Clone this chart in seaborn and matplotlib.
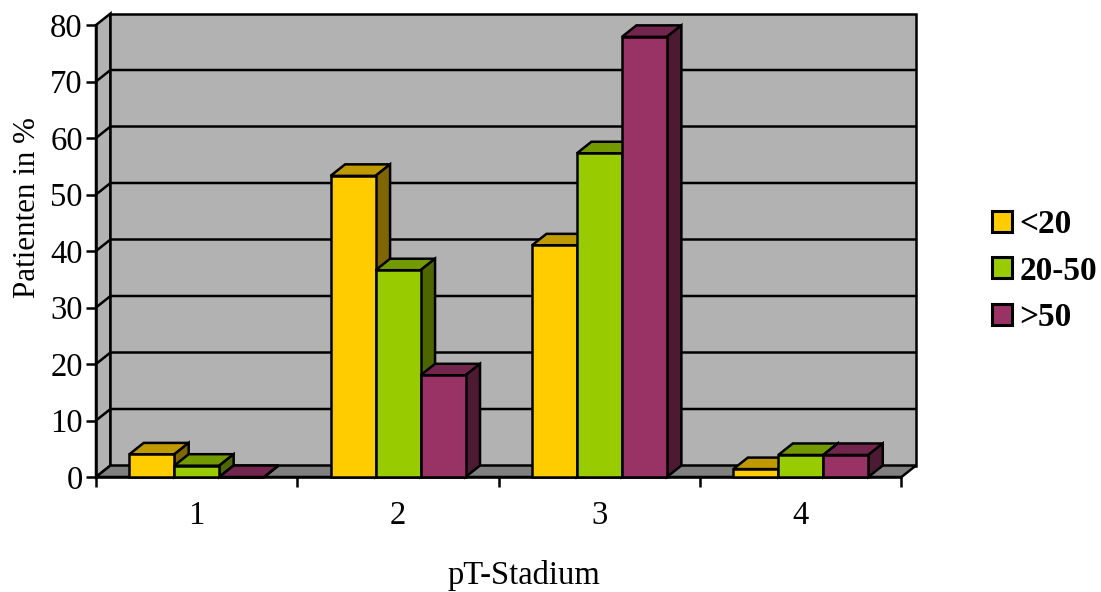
import matplotlib
matplotlib.use('Agg')
import matplotlib.pyplot as plt
from matplotlib.patches import Polygon
import numpy as np
import pandas as pd
import seaborn as sns

stages = ['1', '2', '3', '4']
groups = ['<20', '20-50', '>50']
under_20 = [4.0, 53.3, 41.0, 1.4]
from_20_to_50 = [2.0, 36.6, 57.3, 3.9]
over_50 = [0.0, 18.0, 77.9, 3.9]
colors = ['#FFCC00', '#99CC00', '#993366']
y_ticks = list(range(0, 90, 10))

sns.set_style('white')
plt.rcParams['font.family'] = ['Liberation Serif']
plt.rcParams['font.size'] = 23
plt.rcParams['text.color'] = 'black'
plt.rcParams['axes.labelcolor'] = 'black'
plt.rcParams['xtick.color'] = 'black'
plt.rcParams['ytick.color'] = 'black'

df = pd.DataFrame({
    'stage': stages * 3,
    'group': [g for g in groups for _ in stages],
    'value': under_20 + from_20_to_50 + over_50,
})

W, H = 1101, 592
LW = 1.8
fig = plt.figure(figsize=(W / 100, H / 100), dpi=100)
ax = fig.add_axes([96 / W, (H - 477) / H, 805.5 / W, 452 / H])

sns.barplot(data=df, x='stage', y='value', hue='group', hue_order=groups,
            palette=colors, width=0.67, gap=0, saturation=1,
            edgecolor='black', linewidth=LW, ax=ax)
ax.set_xlim(-0.5, 3.5)
ax.set_ylim(0, 80)
ax.patch.set_visible(False)
# seaborn also keeps empty proxy patches for the legend, skip those
bars = sorted([p for p in ax.patches if p.get_width() > 0], key=lambda p: p.get_x())

# depth of the fake 3d box, in data units
dx = 14.5 / 201.4
dy = 11.5 / 5.65
x0, x1 = -0.5, 3.5


def shade(c, f):
    return tuple(v * f for v in matplotlib.colors.to_rgb(c))


def poly(pts, face, z):
    ax.add_patch(Polygon(pts, closed=True, facecolor=face, edgecolor='black',
                         linewidth=LW, joinstyle='miter', clip_on=False, zorder=z))


# walls and floor
poly([(x0, 0), (x0 + dx, dy), (x0 + dx, 80 + dy), (x0, 80)], '#B2B2B2', 0.5)
poly([(x0 + dx, dy), (x1 + dx, dy), (x1 + dx, 80 + dy), (x0 + dx, 80 + dy)], '#B2B2B2', 0.5)
poly([(x0, 0), (x1, 0), (x1 + dx, dy), (x0 + dx, dy)], '#808080', 0.6)
for v in y_ticks[1:-1]:
    ax.plot([x0, x0 + dx, x1 + dx], [v, v + dy, v + dy], color='black', lw=LW,
            clip_on=False, zorder=0.7)

# bar tops and sides, left to right so that the next bar covers the last one
for i, bar in enumerate(bars):
    left, w, h = bar.get_x(), bar.get_width(), bar.get_height()
    right = left + w
    face = bar.get_facecolor()
    z = 3 + i
    poly([(left, h), (right, h), (right + dx, h + dy), (left + dx, h + dy)], shade(face, 0.75), z)
    poly([(right, 0), (right + dx, dy), (right + dx, h + dy), (right, h)], shade(face, 0.5), z)
    bar.set_zorder(z + 0.5)
    bar.set_clip_on(False)

# ticks sit on the category borders, labels in between
ax.set_xticks(np.arange(x0, x1 + 1))
ax.set_xticklabels([])
ax.set_xticks(range(4), labels=stages, minor=True)
ax.tick_params(axis='x', which='major', length=7, width=LW, color='black', bottom=True)
ax.tick_params(axis='x', which='minor', length=0, pad=17, labelsize=23.5, bottom=True)
ax.set_yticks(y_ticks)
ax.tick_params(axis='y', length=7, width=LW, color='black', pad=2.5, labelsize=23.5, left=True)

for side in ['top', 'right']:
    ax.spines[side].set_visible(False)
for side in ['left', 'bottom']:
    ax.spines[side].set_linewidth(LW)
    ax.spines[side].set_color('black')
    ax.spines[side].set_zorder(2)

ax.set_xlabel('pT-Stadium', fontsize=23.5, va='center')
ax.xaxis.set_label_coords(0.531, -0.219)
ax.set_ylabel('Patienten in %', fontsize=22.3, va='center')
ax.yaxis.set_label_coords(-0.085, 0.597)

handles, labels = ax.get_legend_handles_labels()
leg = fig.legend(handles, labels, loc='center left', bbox_to_anchor=(961.5 / W, (H - 271) / H),
                 frameon=False, prop={'family': 'Liberation Serif', 'weight': 'bold', 'size': 24},
                 handlelength=0.6, handleheight=0.6, handletextpad=0.24, labelspacing=0.47)
for h in leg.get_patches():
    h.set_linewidth(2.2)
ax.get_legend().remove()

fig.savefig('out.png', dpi=100)
